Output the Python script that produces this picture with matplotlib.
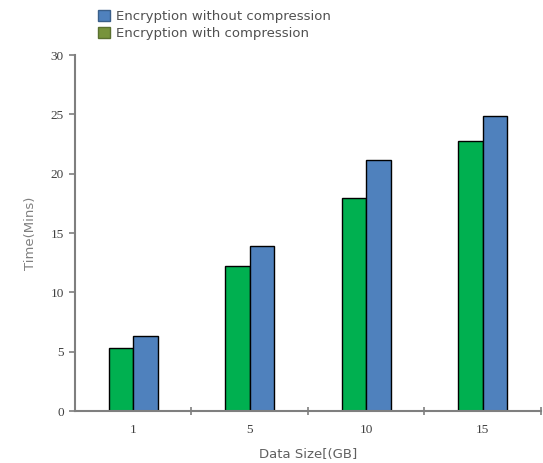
import matplotlib
matplotlib.use("Agg")
import matplotlib.pyplot as plt
from matplotlib.patches import Patch
import numpy as np

# data
sizes = ["1", "5", "10", "15"]
with_compression = [5.3, 12.2, 18.0, 22.8]
without_compression = [6.3, 13.9, 21.2, 24.9]
y_ticks = [0, 5, 10, 15, 20, 25, 30]

bar_green = "#00b050"
bar_blue = "#4f81bd"
legend_green = "#77933c"
axis_gray = "#7f7f7f"

fig = plt.figure(figsize=(5.43, 4.63), dpi=100)
ax = fig.add_axes([0.138, 0.112, 0.858, 0.769])

x = np.arange(len(sizes))
w = 0.21
ax.bar(x - w / 2, with_compression, w, color=bar_green, edgecolor="black", linewidth=1.0)
ax.bar(x + w / 2, without_compression, w, color=bar_blue, edgecolor="black", linewidth=1.0)

ax.set_xlim(-0.5, 3.5)
ax.set_ylim(0, 30)

# spines
for s in ["top", "right"]:
    ax.spines[s].set_visible(False)
for s in ["left", "bottom"]:
    ax.spines[s].set_color(axis_gray)
    ax.spines[s].set_linewidth(1.5)

# ticks
ax.set_xticks(x)
ax.set_xticklabels(sizes)
ax.set_xticks([0.5, 1.5, 2.5, 3.5], minor=True)
ax.tick_params(axis="x", which="major", length=0, pad=9)
ax.tick_params(axis="x", which="minor", length=6, direction="inout", color=axis_gray, width=1.2)
ax.set_yticks(y_ticks)
ax.tick_params(axis="y", length=4, direction="out", color=axis_gray, width=1.2, pad=4)
for lab in ax.get_xticklabels() + ax.get_yticklabels():
    lab.set_fontfamily("Liberation Serif")
    lab.set_fontsize(9.5)
    lab.set_color("#404040")

ax.set_xlabel("Data Size[(GB]", fontsize=9.5, color="#606060", labelpad=9)
ax.set_ylabel("Time(Mins)", fontsize=9.5, color="#808080", labelpad=10)

handles = [Patch(facecolor=bar_blue, edgecolor="#3a5f8a"),
           Patch(facecolor=legend_green, edgecolor="#5a7030")]
fig.legend(handles, ["Encryption without compression", "Encryption with compression"],
           loc="upper left", bbox_to_anchor=(0.158, 1.005), frameon=False,
           fontsize=9.5, handlelength=0.9, handleheight=0.9, handletextpad=0.5,
           labelspacing=0.35, labelcolor="#505050")

fig.savefig("out.png", dpi=100)
